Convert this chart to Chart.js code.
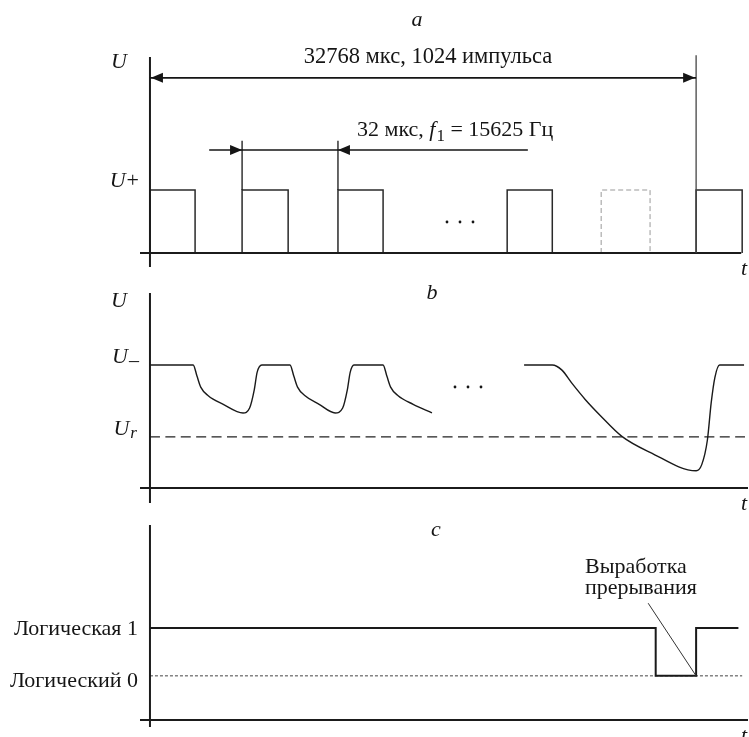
<!DOCTYPE html>
<html>
<head>
<meta charset="utf-8">
<script src="https://cdn.jsdelivr.net/npm/chart.js@4.4.1/dist/chart.umd.min.js"></script>
<style>
  body { margin: 0; background: #fff; }
  .wrap { position: relative; width: 749px; height: 737px; }
  .wrap canvas { position: absolute; left: 0; top: 0; }
</style>
</head>
<body>
<div class="wrap">
  <canvas id="panel_a" width="749" height="737"></canvas>
  <canvas id="panel_b" width="749" height="737"></canvas>
  <canvas id="panel_c" width="749" height="737"></canvas>
</div>
<script>
// time is in pulse periods (1 = 32 us), voltage in relative units

// a: input pulses
const pulseStart = [0, 0.98, 2.0, 3.8, 5.81];
const pulseWidth = [0.48, 0.49, 0.48, 0.48, 0.49];
const missedStart = [4.8];
const missedWidth = [0.52];
const U_PLUS = 1;

// b: voltage on the capacitor
const chargeT1 = [0, 0.46, 0.50, 0.54, 0.62, 0.78, 0.99, 1.06, 1.11, 1.14, 1.19,
                  1.49, 1.53, 1.57, 1.65, 1.80, 1.97, 2.05, 2.10, 2.13, 2.17,
                  2.48, 2.52, 2.56, 2.64, 2.80, 3.0];
const chargeU1 = [1, 1, 0.91, 0.82, 0.75, 0.68, 0.61, 0.65, 0.80, 0.94, 1,
                  1, 0.91, 0.82, 0.75, 0.68, 0.61, 0.65, 0.80, 0.94, 1,
                  1, 0.91, 0.82, 0.75, 0.68, 0.61];
const chargeT2 = [3.98, 4.28, 4.38, 4.49, 4.63, 4.79, 5.02, 5.32, 5.81, 5.87, 5.93, 5.97, 6.01, 6.06, 6.32];
const chargeU2 = [1, 1, 0.96, 0.85, 0.72, 0.59, 0.42, 0.29, 0.14, 0.19, 0.39, 0.69, 0.90, 1, 1];
const U_MINUS = 1;
const U_R = 0.415;

// c: interrupt output
const logicT = [0, 5.38, 5.38, 5.81, 5.81, 6.26];
const logicV = [1, 1, 0.48, 0.48, 1, 1];
const LOGIC_ONE = 1;
const LOGIC_ZERO = 0.48;

const X_MIN = -0.106, X_MAX = 6.362;
const FONT = '"Liberation Serif", "Times New Roman", serif';
const INK = '#151515';

function pts(xs, ys) {
    return xs.map((v, i) => ({x: v, y: ys[i]}));
}

function pulsePoints(starts, widths, level) {
    const out = [];
    starts.forEach((s, i) => {
        const e = s + widths[i];
        out.push({x: s, y: 0}, {x: s, y: level}, {x: e, y: level}, {x: e, y: 0}, {x: e, y: null});
    });
    return out;
}

function line(ctx, x1, y1, x2, y2) {
    ctx.beginPath();
    ctx.moveTo(x1, y1);
    ctx.lineTo(x2, y2);
    ctx.stroke();
}

function arrowHead(ctx, x, y, dir) {
    // dir = 1 points right, -1 points left
    ctx.beginPath();
    ctx.moveTo(x, y);
    ctx.lineTo(x - dir * 12, y - 5);
    ctx.lineTo(x - dir * 12, y + 5);
    ctx.closePath();
    ctx.fill();
}

function dots(ctx, x, y) {
    for (let i = 0; i < 3; i++) {
        ctx.beginPath();
        ctx.arc(x + i * 13, y, 1.4, 0, Math.PI * 2);
        ctx.fill();
    }
}

// italic U with a subscript, right edge at x
function levelLabel(ctx, x, y, sub, subFont, subDy) {
    ctx.save();
    ctx.textAlign = 'left';
    ctx.textBaseline = 'alphabetic';
    ctx.font = subFont;
    const sw = sub ? ctx.measureText(sub).width : 0;
    ctx.font = 'italic 22px ' + FONT;
    const uw = ctx.measureText('U').width;
    ctx.fillText('U', x - sw - uw, y);
    if (sub) {
        ctx.font = subFont;
        ctx.fillText(sub, x - sw + 1, y + subDy);
    }
    ctx.restore();
}

function axesPlugin(xEnd) {
    return {
        id: 'axes',
        afterDatasetsDraw(chart) {
            const {ctx, chartArea, scales: {x, y}} = chart;
            const x0 = x.getPixelForValue(0), y0 = y.getPixelForValue(0);
            ctx.save();
            ctx.strokeStyle = '#1b1b1b';
            ctx.lineWidth = 2;
            line(ctx, x0, chartArea.top, x0, chartArea.bottom);
            line(ctx, chartArea.left, y0, x.getPixelForValue(xEnd), y0);
            ctx.fillStyle = INK;
            ctx.font = 'italic 22px ' + FONT;
            ctx.textAlign = 'left';
            ctx.fillText('t', 741, y0 + 22);
            ctx.restore();
        }
    };
}

function baseOptions(padTop, padBottom, yMin, yMax) {
    return {
        responsive: false,
        animation: false,
        events: [],
        layout: { padding: { left: 140, right: 1, top: padTop, bottom: padBottom } },
        plugins: { legend: { display: false }, tooltip: { enabled: false } },
        elements: { point: { radius: 0 } },
        scales: {
            x: { type: 'linear', min: X_MIN, max: X_MAX, display: false },
            y: { type: 'linear', min: yMin, max: yMax, display: false }
        }
    };
}

const annotA = {
    id: 'annotA',
    afterDraw(chart) {
        const {ctx, chartArea, scales: {x, y}} = chart;
        const x0 = x.getPixelForValue(0);
        ctx.save();
        ctx.fillStyle = INK;
        ctx.strokeStyle = INK;
        ctx.font = 'italic 22px ' + FONT;
        ctx.textAlign = 'center';
        ctx.textBaseline = 'middle';
        ctx.fillText('a', 417, 20);

        levelLabel(ctx, x0 - 23, chartArea.top + 11, '', '', 0);
        levelLabel(ctx, x0 - 12, y.getPixelForValue(U_PLUS) - 3, '+', '22px ' + FONT, 0);

        // period of 1024 pulses
        const last = x.getPixelForValue(pulseStart[pulseStart.length - 1]);
        ctx.strokeStyle = '#444';
        ctx.lineWidth = 1.3;
        line(ctx, last, y.getPixelForValue(3.14), last, y.getPixelForValue(0));
        ctx.strokeStyle = INK;
        ctx.lineWidth = 1.6;
        const yBig = y.getPixelForValue(2.78);
        line(ctx, x0, yBig, last, yBig);
        arrowHead(ctx, x0 + 1, yBig, -1);
        arrowHead(ctx, last - 1, yBig, 1);
        ctx.font = '22.5px ' + FONT;
        ctx.textAlign = 'center';
        ctx.textBaseline = 'alphabetic';
        ctx.fillText('32768 мкс, 1024 импульса', 428, 63);

        // one period
        const p1 = x.getPixelForValue(pulseStart[1]);
        const p2 = x.getPixelForValue(pulseStart[2]);
        const yTick = y.getPixelForValue(1.78);
        const ySmall = y.getPixelForValue(1.635);
        ctx.lineWidth = 1.3;
        line(ctx, p1, yTick, p1, y.getPixelForValue(U_PLUS));
        line(ctx, p2, yTick, p2, y.getPixelForValue(U_PLUS));
        ctx.lineWidth = 1.6;
        line(ctx, x.getPixelForValue(0.63), ySmall, x.getPixelForValue(4.02), ySmall);
        arrowHead(ctx, p1, ySmall, 1);
        arrowHead(ctx, p2, ySmall, -1);

        ctx.textAlign = 'left';
        let tx = 357;
        const by = 136;
        ctx.font = '22px ' + FONT;
        ctx.fillText('32 мкс, ', tx, by);
        tx += ctx.measureText('32 мкс, ').width;
        ctx.font = 'italic 22px ' + FONT;
        ctx.fillText('f', tx, by);
        tx += ctx.measureText('f').width + 1;
        ctx.font = '17px ' + FONT;
        ctx.fillText('1', tx, by + 5);
        tx += ctx.measureText('1').width;
        ctx.font = '22px ' + FONT;
        ctx.fillText(' = 15625 Гц', tx, by);

        dots(ctx, 447, 222);
        ctx.restore();
    }
};

const annotB = {
    id: 'annotB',
    afterDraw(chart) {
        const {ctx, chartArea, scales: {x, y}} = chart;
        const x0 = x.getPixelForValue(0);
        ctx.save();
        ctx.fillStyle = INK;
        ctx.font = 'italic 22px ' + FONT;
        ctx.textAlign = 'center';
        ctx.textBaseline = 'middle';
        ctx.fillText('b', 432, 293);
        levelLabel(ctx, x0 - 23, chartArea.top + 14, '', '', 0);
        levelLabel(ctx, x0 - 12, y.getPixelForValue(U_MINUS) - 2, '–', '20px ' + FONT, 4);
        levelLabel(ctx, x0 - 14, y.getPixelForValue(U_R) - 2, 'r', 'italic 17px ' + FONT, 3);
        dots(ctx, 455, 387);
        ctx.restore();
    }
};

const annotC = {
    id: 'annotC',
    afterDraw(chart) {
        const {ctx, scales: {x, y}} = chart;
        const x0 = x.getPixelForValue(0);
        ctx.save();
        ctx.fillStyle = INK;
        ctx.font = 'italic 22px ' + FONT;
        ctx.textAlign = 'center';
        ctx.textBaseline = 'middle';
        ctx.fillText('c', 436, 530);

        ctx.font = '22px ' + FONT;
        ctx.textAlign = 'right';
        ctx.fillText('Логическая 1', x0 - 12, y.getPixelForValue(LOGIC_ONE) + 1);
        ctx.fillText('Логический 0', x0 - 12, y.getPixelForValue(LOGIC_ZERO) + 5);

        ctx.textAlign = 'left';
        ctx.textBaseline = 'alphabetic';
        ctx.fillText('Выработка', 585, 573);
        ctx.fillText('прерывания', 585, 594);
        ctx.strokeStyle = '#333';
        ctx.lineWidth = 1;
        line(ctx, x.getPixelForValue(5.3), y.getPixelForValue(1.27),
             x.getPixelForValue(logicT[3]), y.getPixelForValue(LOGIC_ZERO));
        ctx.restore();
    }
};

new Chart(document.getElementById('panel_a'), {
    type: 'line',
    data: {
        datasets: [{
            data: pulsePoints(pulseStart, pulseWidth, U_PLUS),
            borderColor: '#2a2a2a',
            borderWidth: 1.5,
            spanGaps: false
        }, {
            data: pulsePoints(missedStart, missedWidth, U_PLUS),
            borderColor: '#999',
            borderWidth: 1,
            borderDash: [5, 3],
            spanGaps: false
        }]
    },
    options: baseOptions(57, 470, -0.222, 3.111),
    plugins: [axesPlugin(6.29), annotA]
});

new Chart(document.getElementById('panel_b'), {
    type: 'line',
    data: {
        datasets: [{
            data: pts(chargeT1, chargeU1),
            borderColor: '#1a1a1a',
            borderWidth: 1.4,
            cubicInterpolationMode: 'monotone'
        }, {
            data: pts(chargeT2, chargeU2),
            borderColor: '#1a1a1a',
            borderWidth: 1.4,
            cubicInterpolationMode: 'monotone'
        }, {
            data: pts([0, 6.33], [U_R, U_R]),
            borderColor: '#222',
            borderWidth: 1.3,
            borderDash: [10, 5.4]
        }]
    },
    options: baseOptions(293, 234, -0.122, 1.585),
    plugins: [axesPlugin(X_MAX), annotB]
});

new Chart(document.getElementById('panel_c'), {
    type: 'line',
    data: {
        datasets: [{
            data: pts(logicT, logicV),
            borderColor: '#1a1a1a',
            borderWidth: 2
        }, {
            data: pts([0, 6.3], [LOGIC_ZERO, LOGIC_ZERO]),
            borderColor: '#444',
            borderWidth: 1,
            borderDash: [3, 2]
        }]
    },
    options: baseOptions(525, 10, -0.076, 2.12),
    plugins: [axesPlugin(X_MAX), annotC]
});
</script>
</body>
</html>
